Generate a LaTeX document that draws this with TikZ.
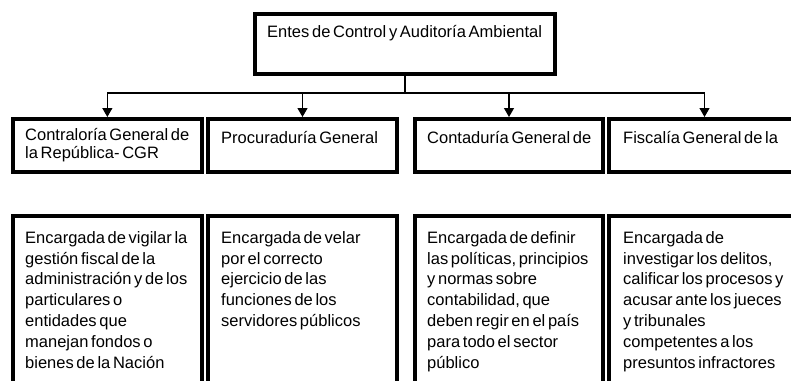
\documentclass[tikz,border=0pt]{standalone}
\usepackage{fontspec}
\setmainfont{Liberation Sans}
\usetikzlibrary{arrows.meta}
\newcommand{\lblfont}{\fontsize{16.5}{20.8}\selectfont\spaceskip=2.7pt\relax}
\newcommand{\lblfontb}{\fontsize{16.5}{18.3}\selectfont\spaceskip=2.7pt\relax}
\tikzset{
  box/.style={draw=black, line width=4pt, inner sep=0pt, rectangle, fill=white},
  lbl/.style={anchor=north west, inner sep=0pt, align=left, font=\lblfont},
  conn/.style={line width=1.2pt},
  arr/.style={conn, -{Triangle[width=10pt,length=9pt]}}
}
\newcommand{\fl}{\rule{0pt}{13pt}}
\begin{document}
\begin{tikzpicture}[x=1pt,y=-1pt]
\useasboundingbox (0,0) rectangle (791,380);
\clip (0,0) rectangle (791,380);
\fill[white] (0,0) rectangle (791,380);
% top box
\node[box, minimum width=300pt, minimum height=60pt] (top) at (405,44) {};
\node[lbl] (t0) at (267,24) {\fl Entes de Control y Auditoría Ambiental};
% row 2
\node[box, minimum width=189.3pt, minimum height=53pt] (c1) at (107.35,145.5) {};
\node[box, minimum width=189pt, minimum height=53pt] (c2) at (302.5,145.5) {};
\node[box, minimum width=188pt, minimum height=53pt] (c3) at (509,145.5) {};
\node[box, minimum width=191pt, minimum height=53pt] (c4) at (704.5,145.5) {};
\node[lbl, font=\lblfontb] (tc1) at (25,127) {\fl Contraloría General de\\la República- CGR};
\node[lbl] (tc2) at (221,130) {\fl Procuraduría General};
\node[lbl] (tc3) at (427,130) {\fl Contaduría General de};
\node[lbl] (tc4) at (623,130) {\fl Fiscalía General de la};
% row 3
\node[box, minimum width=189.3pt, minimum height=184pt] (d1) at (107.35,308) {};
\node[box, minimum width=189pt, minimum height=184pt] (d2) at (302.5,308) {};
\node[box, minimum width=188pt, minimum height=184pt] (d3) at (509,308) {};
\node[box, minimum width=191pt, minimum height=184pt] (d4) at (704.5,308) {};
\node[lbl] (td1) at (25,230) {\fl Encargada de vigilar la\\gestión fiscal de la\\administración y de los\\particulares o\\entidades que\\manejan fondos o\\bienes de la Nación};
\node[lbl] (td2) at (221,230) {\fl Encargada de velar\\por el correcto\\ejercicio de las\\funciones de los\\servidores públicos};
\node[lbl] (td3) at (427,230) {\fl Encargada de definir\\las políticas, principios\\y normas sobre\\contabilidad, que\\deben regir en el país\\para todo el sector\\público};
\node[lbl] (td4) at (623,230) {\fl Encargada de\\investigar los delitos,\\calificar los procesos y\\acusar ante los jueces\\y tribunales\\competentes a los\\presuntos infractores};
% connectors
\coordinate (j) at (top.south |- 0,93);
\draw[conn] (top.south) -- (j);
\draw[arr] (j) -| (c1.north);
\draw[arr] (j) -| (c2.north);
\draw[arr] (j) -| (c3.north);
\draw[arr] (j) -| (c4.north);
\end{tikzpicture}
\end{document}
